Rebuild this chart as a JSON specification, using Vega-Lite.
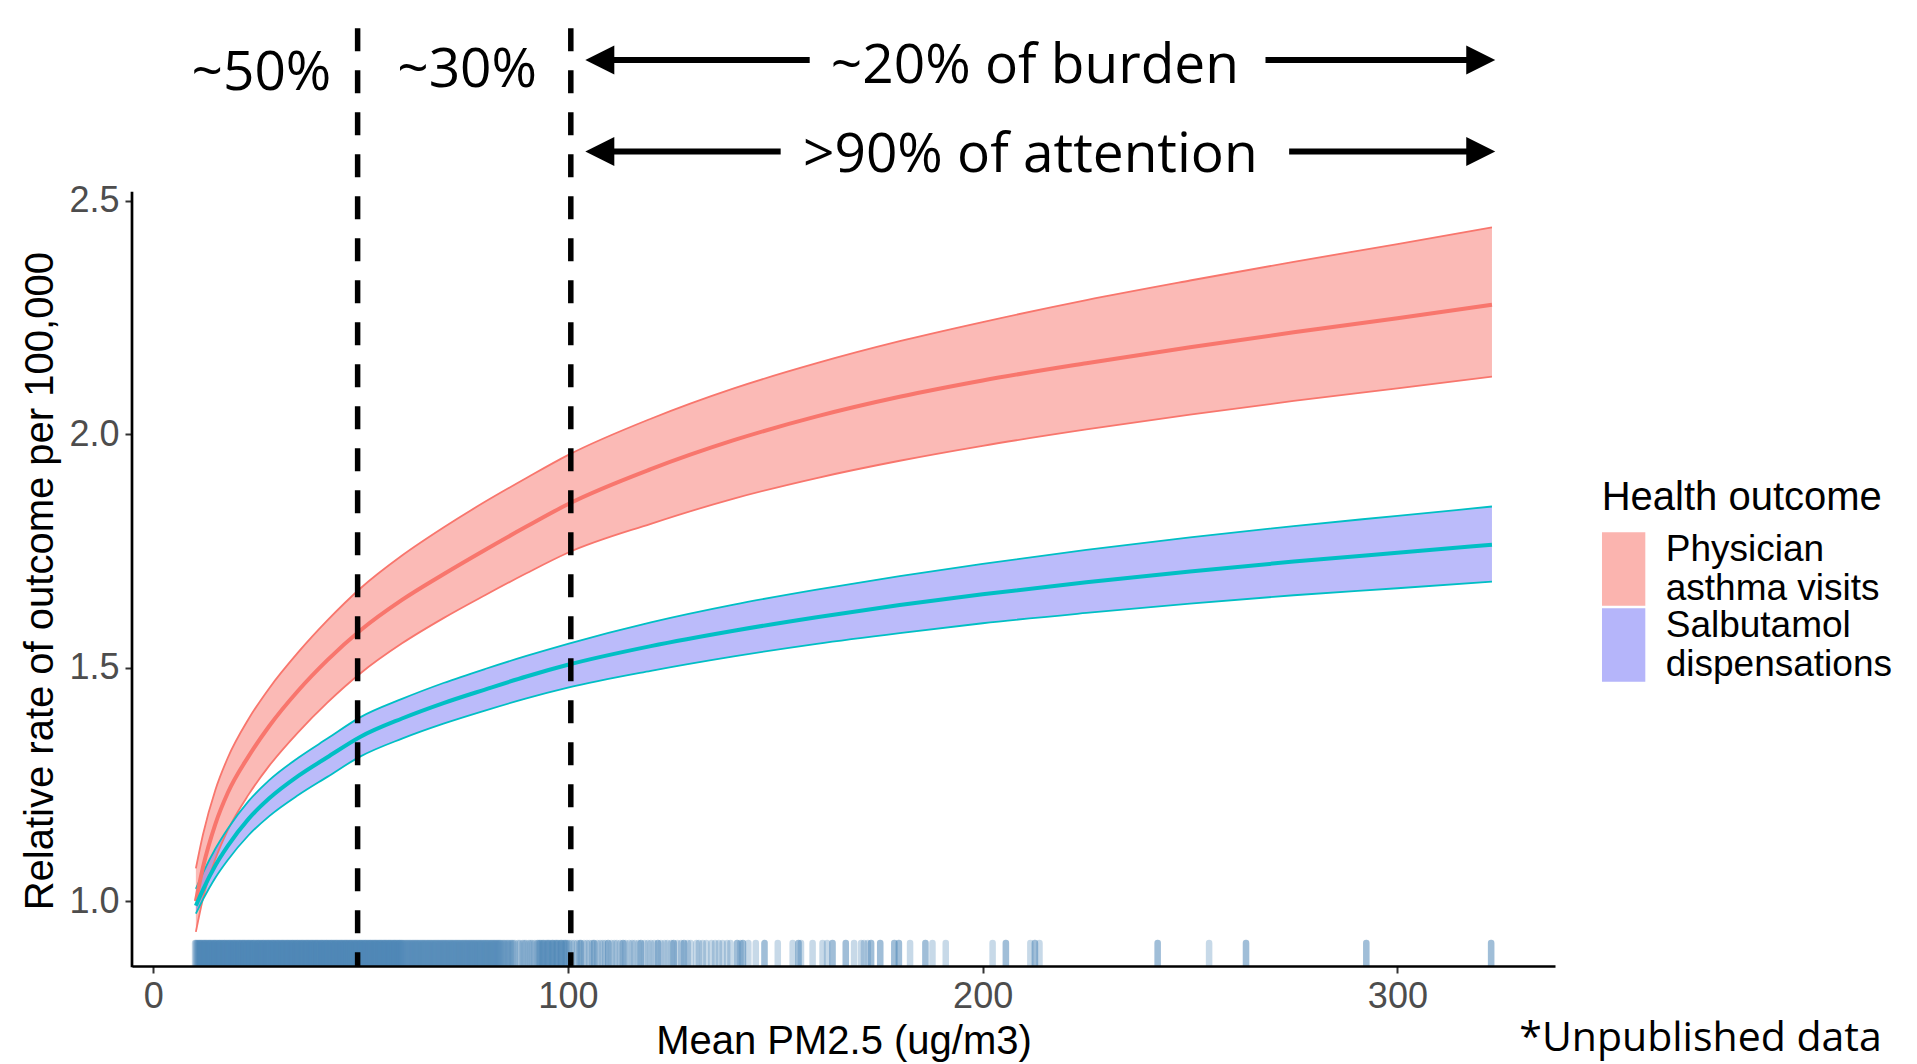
{
  "$schema": "https://vega.github.io/schema/vega-lite/v6.json",
  "width": 1423,
  "height": 947,
  "autosize": {"type": "none"},
  "padding": {"left": 132, "top": 19, "right": 362, "bottom": 98},
  "background": "white",
  "config": {"view": {"stroke": null}, "font": "Liberation Sans"},
  "datasets": {
    "curves": [
      {"outcome": "Physician asthma visits", "pm": 10.3, "lo": 0.934, "rr": 1.000, "hi": 1.070},
      {"outcome": "Physician asthma visits", "pm": 12, "lo": 1.005, "rr": 1.072, "hi": 1.142},
      {"outcome": "Physician asthma visits", "pm": 15, "lo": 1.090, "rr": 1.165, "hi": 1.238},
      {"outcome": "Physician asthma visits", "pm": 18, "lo": 1.152, "rr": 1.232, "hi": 1.307},
      {"outcome": "Physician asthma visits", "pm": 23, "lo": 1.228, "rr": 1.310, "hi": 1.390},
      {"outcome": "Physician asthma visits", "pm": 28, "lo": 1.290, "rr": 1.375, "hi": 1.456},
      {"outcome": "Physician asthma visits", "pm": 35, "lo": 1.362, "rr": 1.451, "hi": 1.533},
      {"outcome": "Physician asthma visits", "pm": 42, "lo": 1.425, "rr": 1.516, "hi": 1.601},
      {"outcome": "Physician asthma visits", "pm": 50, "lo": 1.488, "rr": 1.580, "hi": 1.670},
      {"outcome": "Physician asthma visits", "pm": 60, "lo": 1.552, "rr": 1.645, "hi": 1.740},
      {"outcome": "Physician asthma visits", "pm": 70, "lo": 1.606, "rr": 1.700, "hi": 1.800},
      {"outcome": "Physician asthma visits", "pm": 80, "lo": 1.655, "rr": 1.752, "hi": 1.855},
      {"outcome": "Physician asthma visits", "pm": 90, "lo": 1.702, "rr": 1.802, "hi": 1.906},
      {"outcome": "Physician asthma visits", "pm": 100, "lo": 1.746, "rr": 1.850, "hi": 1.955},
      {"outcome": "Physician asthma visits", "pm": 120, "lo": 1.808, "rr": 1.925, "hi": 2.033},
      {"outcome": "Physician asthma visits", "pm": 140, "lo": 1.862, "rr": 1.987, "hi": 2.098},
      {"outcome": "Physician asthma visits", "pm": 160, "lo": 1.906, "rr": 2.038, "hi": 2.152},
      {"outcome": "Physician asthma visits", "pm": 180, "lo": 1.943, "rr": 2.080, "hi": 2.199},
      {"outcome": "Physician asthma visits", "pm": 200, "lo": 1.975, "rr": 2.115, "hi": 2.240},
      {"outcome": "Physician asthma visits", "pm": 225, "lo": 2.010, "rr": 2.152, "hi": 2.287},
      {"outcome": "Physician asthma visits", "pm": 250, "lo": 2.042, "rr": 2.186, "hi": 2.329},
      {"outcome": "Physician asthma visits", "pm": 275, "lo": 2.071, "rr": 2.218, "hi": 2.369},
      {"outcome": "Physician asthma visits", "pm": 300, "lo": 2.098, "rr": 2.248, "hi": 2.407},
      {"outcome": "Physician asthma visits", "pm": 322.8, "lo": 2.123, "rr": 2.277, "hi": 2.443},
      {"outcome": "Salbutamol dispensations", "pm": 10.3, "lo": 0.973, "rr": 0.990, "hi": 1.026},
      {"outcome": "Salbutamol dispensations", "pm": 12, "lo": 1.003, "rr": 1.024, "hi": 1.060},
      {"outcome": "Salbutamol dispensations", "pm": 15, "lo": 1.050, "rr": 1.076, "hi": 1.112},
      {"outcome": "Salbutamol dispensations", "pm": 18, "lo": 1.088, "rr": 1.118, "hi": 1.155},
      {"outcome": "Salbutamol dispensations", "pm": 23, "lo": 1.141, "rr": 1.176, "hi": 1.214},
      {"outcome": "Salbutamol dispensations", "pm": 28, "lo": 1.182, "rr": 1.220, "hi": 1.259},
      {"outcome": "Salbutamol dispensations", "pm": 35, "lo": 1.227, "rr": 1.268, "hi": 1.307},
      {"outcome": "Salbutamol dispensations", "pm": 42, "lo": 1.266, "rr": 1.308, "hi": 1.348},
      {"outcome": "Salbutamol dispensations", "pm": 50, "lo": 1.310, "rr": 1.352, "hi": 1.394},
      {"outcome": "Salbutamol dispensations", "pm": 60, "lo": 1.348, "rr": 1.391, "hi": 1.433},
      {"outcome": "Salbutamol dispensations", "pm": 70, "lo": 1.380, "rr": 1.424, "hi": 1.467},
      {"outcome": "Salbutamol dispensations", "pm": 80, "lo": 1.408, "rr": 1.453, "hi": 1.497},
      {"outcome": "Salbutamol dispensations", "pm": 90, "lo": 1.434, "rr": 1.481, "hi": 1.525},
      {"outcome": "Salbutamol dispensations", "pm": 100, "lo": 1.457, "rr": 1.506, "hi": 1.551},
      {"outcome": "Salbutamol dispensations", "pm": 120, "lo": 1.493, "rr": 1.546, "hi": 1.597},
      {"outcome": "Salbutamol dispensations", "pm": 140, "lo": 1.524, "rr": 1.579, "hi": 1.635},
      {"outcome": "Salbutamol dispensations", "pm": 160, "lo": 1.551, "rr": 1.608, "hi": 1.667},
      {"outcome": "Salbutamol dispensations", "pm": 180, "lo": 1.574, "rr": 1.634, "hi": 1.696},
      {"outcome": "Salbutamol dispensations", "pm": 200, "lo": 1.595, "rr": 1.657, "hi": 1.722},
      {"outcome": "Salbutamol dispensations", "pm": 225, "lo": 1.617, "rr": 1.683, "hi": 1.752},
      {"outcome": "Salbutamol dispensations", "pm": 250, "lo": 1.637, "rr": 1.706, "hi": 1.779},
      {"outcome": "Salbutamol dispensations", "pm": 275, "lo": 1.655, "rr": 1.727, "hi": 1.803},
      {"outcome": "Salbutamol dispensations", "pm": 300, "lo": 1.670, "rr": 1.746, "hi": 1.825},
      {"outcome": "Salbutamol dispensations", "pm": 322.8, "lo": 1.684, "rr": 1.763, "hi": 1.845}
    ],
    "rug": [
      10.1,10.3,10.5,10.7,10.9,11.1,11.3,11.5,11.7,11.9,12.1,12.3,12.5,12.7,12.9,13.1,13.3,13.5,13.7,13.9,
      14.1,14.3,14.5,14.7,14.9,15.1,15.3,15.5,15.7,15.9,16.1,16.3,16.5,16.7,16.9,17.1,17.3,17.5,17.7,17.9,
      18.1,18.3,18.5,18.7,18.9,19.1,19.3,19.5,19.7,19.9,20.1,20.3,20.5,20.7,20.9,21.1,21.3,21.5,21.7,21.9,
      22.1,22.3,22.5,22.7,22.9,23.1,23.3,23.5,23.7,23.9,24.1,24.3,24.5,24.7,24.9,25.1,25.3,25.5,25.7,25.9,
      26.1,26.3,26.5,26.7,26.9,27.1,27.3,27.5,27.7,27.9,28.1,28.3,28.5,28.7,28.9,29.1,29.3,29.5,29.7,29.9,
      30.1,30.3,30.5,30.7,30.9,31.1,31.3,31.5,31.7,31.9,32.1,32.3,32.5,32.7,32.9,33.1,33.3,33.5,33.7,33.9,
      34.1,34.3,34.5,34.7,34.9,35.1,35.3,35.5,35.7,35.9,36.1,36.3,36.5,36.7,36.9,37.1,37.3,37.5,37.7,37.9,
      38.1,38.3,38.5,38.7,38.9,39.1,39.3,39.5,39.7,39.9,40.1,40.3,40.5,40.7,40.9,41.1,41.3,41.5,41.7,41.9,
      42.1,42.3,42.5,42.7,42.9,43.1,43.3,43.5,43.7,43.9,44.1,44.3,44.5,44.7,44.9,45.1,45.3,45.5,45.7,45.9,
      46.1,46.3,46.5,46.7,46.9,47.1,47.3,47.5,47.7,47.9,48.1,48.3,48.5,48.7,48.9,49.1,49.3,49.5,49.7,49.9,
      50.1,50.3,50.5,50.7,50.9,51.1,51.3,51.5,51.7,51.9,52.1,52.3,52.5,52.7,52.9,53.1,53.3,53.5,53.7,53.9,
      54.1,54.3,54.5,54.7,54.9,55.1,55.3,55.5,55.7,55.9,56.1,56.3,56.5,56.7,56.9,57.1,57.3,57.5,57.7,57.9,
      58.1,58.3,58.5,58.7,58.9,59.1,59.3,59.5,59.7,59.9,
      60.1,60.35,60.6,60.85,61.1,61.35,61.6,61.85,62.1,62.35,62.6,62.85,63.1,63.35,63.6,63.85,
      64.1,64.35,64.6,64.85,65.1,65.35,65.6,65.85,66.1,66.35,66.6,66.85,67.1,67.35,67.6,67.85,
      68.1,68.35,68.6,68.85,69.1,69.35,69.6,69.85,70.1,70.35,70.6,70.85,71.1,71.35,71.6,71.85,
      72.1,72.35,72.6,72.85,73.1,73.35,73.6,73.85,74.1,74.35,74.6,74.85,75.1,75.35,75.6,75.85,
      76.1,76.35,76.6,76.85,77.1,77.35,77.6,77.85,78.1,78.35,78.6,78.85,79.1,79.35,79.6,79.85,
      80.1,80.35,80.6,80.85,81.1,81.35,81.6,81.85,82.1,82.35,82.6,82.85,83.1,83.35,83.6,83.85,
      84.2,84.5,84.8,85.2,85.5,85.8,86.2,86.5,86.8,87.2,
      88.0,88.4,89.1,89.5,89.9,90.6,91.0,91.4,92.0,
      92.6,92.8,93.1,93.3,93.6,93.9,94.1,94.3,94.7,95.0,95.2,95.4,95.7,96.1,96.3,96.4,96.8,97.1,97.3,97.5,
      97.8,98.2,98.4,98.5,98.9,99.2,99.4,99.6,99.9,100.3,
      100.9,101.5,102.2,102.8,103.1,103.1,103.9,104.6,105.2,105.9,106.3,106.3,107.1,107.8,108.4,109.0,109.7,109.7,
      110.5,111.2,111.8,112.6,113.3,113.3,113.9,114.8,115.5,116.1,117.0,117.6,117.6,118.5,119.3,120.0,120.8,
      121.7,121.7,122.4,123.3,124.0,124.9,125.5,125.5,126.4,127.3,128.0,128.0,128.9,129.6,
      131.0,131.6,132.5,133.4,134.6,135.5,136.4,137.3,138.4,139.2,140.8,140.8,141.6,142.2,142.2,143.5,145.3,
      147.4,147.4,150.6,154.2,155.6,155.6,156.2,159.0,161.4,162.5,163.8,163.8,167.0,167.0,169.0,170.7,171.4,
      172.3,173.1,173.1,175.3,175.3,178.7,178.7,179.8,179.8,182.5,186.2,186.2,187.9,191.1,202.4,205.6,205.6,
      211.5,212.6,212.6,213.7,242.2,242.2,254.6,263.5,263.5,292.5,292.5,322.6,322.6
    ],
    "cuts": [{"pm": 49.3}, {"pm": 100.7}],
    "arrows": [
      {"row": "burden", "y": 2.801, "leftTip": 104.2, "leftEnd": 158.3, "rightStart": 268.2, "rightTip": 323.6},
      {"row": "attention", "y": 2.605, "leftTip": 104.2, "leftEnd": 151.3, "rightStart": 273.9, "rightTip": 323.6}
    ],
    "notes": [
      {"label": "~50%", "x": 26.1, "y": 2.737},
      {"label": "~30%", "x": 75.7, "y": 2.743},
      {"label": "~20% of burden", "x": 212.6, "y": 2.751},
      {"label": ">90% of attention", "x": 211.5, "y": 2.562}
    ],
    "footnote": [{"label": "*Unpublished data", "x": 329.4, "y": 0.679}]
  },
  "layer": [
    {
      "data": {"name": "curves"},
      "mark": {"type": "area", "interpolate": "monotone", "fillOpacity": 0.5},
      "encoding": {
        "x": {
          "field": "pm", "type": "quantitative",
          "scale": {"domain": [-5.1, 338], "nice": false, "zero": false},
          "axis": {
            "title": "Mean PM2.5 (ug/m3)", "values": [0, 100, 200, 300], "grid": false,
            "domainColor": "black", "domainWidth": 2.7,
            "tickColor": "#333333", "tickWidth": 2, "tickSize": 7,
            "labelFontSize": 36, "labelColor": "#4D4D4D", "labelPadding": 6, "labelFlush": false,
            "titleFontSize": 40, "titleFontWeight": "normal", "titleColor": "black",
            "titleX": 711.5, "titleY": 87, "titleBaseline": "alphabetic", "titleAlign": "center",
            "zindex": 1
          }
        },
        "y": {
          "field": "lo", "type": "quantitative",
          "scale": {"domain": [0.861, 2.889], "nice": false, "zero": false},
          "axis": {
            "title": "Relative rate of outcome per 100,000", "values": [1, 1.5, 2, 2.5], "format": ".1f",
            "grid": false, "domain": false,
            "tickColor": "#333333", "tickWidth": 2, "tickSize": 7,
            "labelFontSize": 36, "labelColor": "#4D4D4D", "labelPadding": 6, "labelFlush": false,
            "titleFontSize": 40, "titleFontWeight": "normal", "titleColor": "black",
            "titleAngle": -90, "titleX": -80, "titleY": 561.7, "titleBaseline": "alphabetic", "titleAlign": "center"
          }
        },
        "y2": {"field": "hi"},
        "fill": {
          "field": "outcome", "type": "nominal",
          "scale": {"domain": ["Physician asthma visits", "Salbutamol dispensations"], "range": ["#F8766D", "#7878F5"]},
          "legend": {
            "title": "Health outcome", "orient": "none", "legendX": 1469.7, "legendY": 459, "padding": 0,
            "titleFontSize": 40, "titleFontWeight": "normal", "titleColor": "black", "titlePadding": 14, "titleLimit": 500,
            "labelFontSize": 37, "labelColor": "black", "labelLimit": 400, "labelOffset": -10, "labelBaseline": "bottom",
            "labelExpr": "datum.label == 'Physician asthma visits' ? ['Physician', 'asthma visits'] : ['Salbutamol', 'dispensations']",
            "symbolType": "M-1,-1H0.18V1H-1Z", "symbolSize": 5388, "symbolOpacity": 0.55, "symbolStrokeWidth": 0,
            "rowPadding": 0
          }
        }
      }
    },
    {
      "data": {"name": "curves"},
      "mark": {"type": "line", "interpolate": "monotone", "strokeWidth": 1.8},
      "encoding": {
        "x": {"field": "pm", "type": "quantitative"},
        "y": {"field": "lo", "type": "quantitative"},
        "stroke": {"field": "outcome", "type": "nominal", "scale": {"domain": ["Physician asthma visits", "Salbutamol dispensations"], "range": ["#F8766D", "#00BFC4"]}, "legend": null}
      }
    },
    {
      "data": {"name": "curves"},
      "mark": {"type": "line", "interpolate": "monotone", "strokeWidth": 1.8},
      "encoding": {
        "x": {"field": "pm", "type": "quantitative"},
        "y": {"field": "hi", "type": "quantitative"},
        "stroke": {"field": "outcome", "type": "nominal", "legend": null}
      }
    },
    {
      "data": {"name": "curves"},
      "mark": {"type": "line", "interpolate": "monotone", "strokeWidth": 4},
      "encoding": {
        "x": {"field": "pm", "type": "quantitative"},
        "y": {"field": "rr", "type": "quantitative"},
        "stroke": {"field": "outcome", "type": "nominal", "legend": null}
      }
    },
    {
      "data": {"name": "rug"},
      "mark": {"type": "rule", "color": "#4682B4", "opacity": 0.3, "strokeWidth": 6.5, "strokeCap": "round", "clip": true},
      "encoding": {
        "x": {"field": "data", "type": "quantitative"},
        "y": {"datum": 0.861, "type": "quantitative"},
        "y2": {"datum": 0.91}
      }
    },
    {
      "data": {"name": "cuts"},
      "mark": {"type": "rule", "color": "black", "strokeWidth": 5.5, "strokeDash": [23, 19]},
      "encoding": {
        "x": {"field": "pm", "type": "quantitative"},
        "y": {"datum": 2.869, "type": "quantitative"},
        "y2": {"datum": 0.861}
      }
    },
    {
      "data": {"values": [{"side": "left"}]},
      "mark": {"type": "rule", "color": "black", "strokeWidth": 2.7, "strokeCap": "square"},
      "encoding": {
        "x": {"datum": -5.1, "type": "quantitative"},
        "y": {"datum": 0.861, "type": "quantitative"},
        "y2": {"datum": 2.5164}
      }
    },
    {
      "data": {"name": "arrows"},
      "mark": {"type": "rule", "color": "black", "strokeWidth": 6, "xOffset": 10},
      "encoding": {
        "x": {"field": "leftTip", "type": "quantitative"},
        "x2": {"field": "leftEnd"},
        "y": {"field": "y", "type": "quantitative"}
      }
    },
    {
      "data": {"name": "arrows"},
      "mark": {"type": "rule", "color": "black", "strokeWidth": 6, "x2Offset": -10},
      "encoding": {
        "x": {"field": "rightStart", "type": "quantitative"},
        "x2": {"field": "rightTip"},
        "y": {"field": "y", "type": "quantitative"}
      }
    },
    {
      "data": {"name": "arrows"},
      "mark": {"type": "point", "shape": "M0,0L2,-1L2,1Z", "size": 841, "filled": true, "color": "black", "opacity": 1, "strokeWidth": 0},
      "encoding": {
        "x": {"field": "leftTip", "type": "quantitative"},
        "y": {"field": "y", "type": "quantitative"}
      }
    },
    {
      "data": {"name": "arrows"},
      "mark": {"type": "point", "shape": "M0,0L-2,-1L-2,1Z", "size": 841, "filled": true, "color": "black", "opacity": 1, "strokeWidth": 0},
      "encoding": {
        "x": {"field": "rightTip", "type": "quantitative"},
        "y": {"field": "y", "type": "quantitative"}
      }
    },
    {
      "data": {"name": "notes"},
      "mark": {"type": "text", "font": "Open Sans", "fontSize": 55, "color": "black", "align": "center", "baseline": "alphabetic"},
      "encoding": {
        "x": {"field": "x", "type": "quantitative"},
        "y": {"field": "y", "type": "quantitative"},
        "text": {"field": "label"}
      }
    },
    {
      "data": {"name": "footnote"},
      "mark": {"type": "text", "font": "Open Sans", "fontSize": 41, "color": "black", "align": "left", "baseline": "alphabetic"},
      "encoding": {
        "x": {"field": "x", "type": "quantitative"},
        "y": {"field": "y", "type": "quantitative"},
        "text": {"field": "label"}
      }
    }
  ]
}
